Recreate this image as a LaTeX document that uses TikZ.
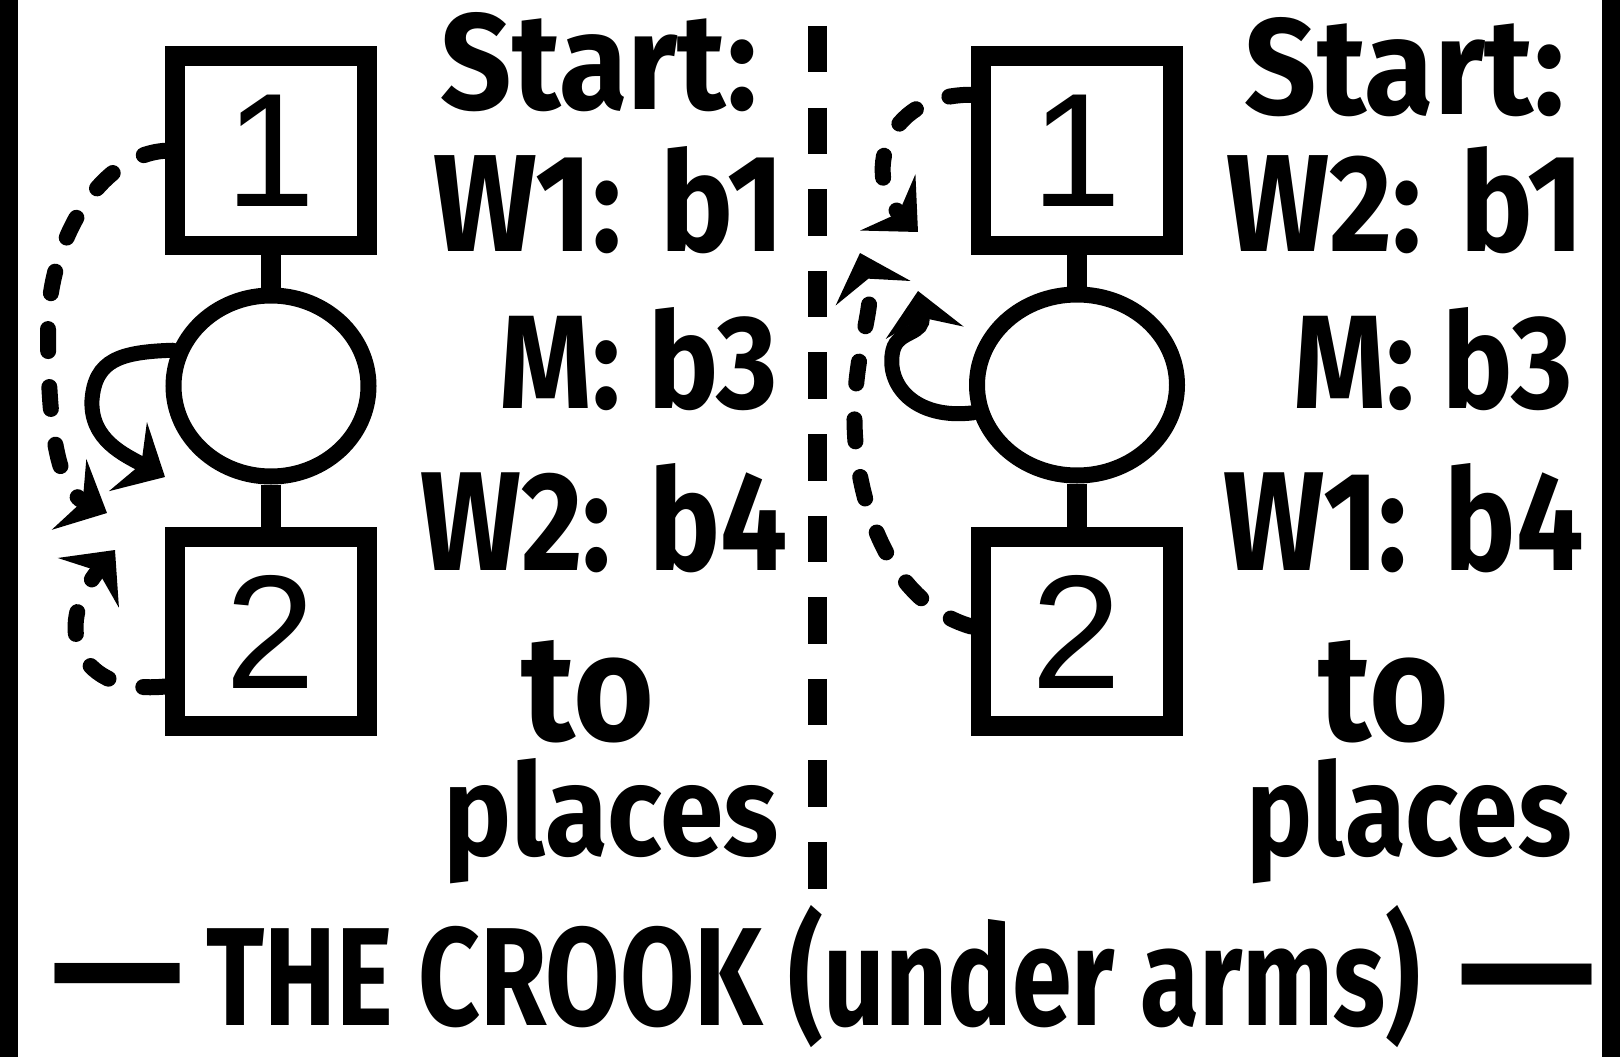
\documentclass[tikz,border=0pt]{standalone}
\usepackage{fontspec}
\setmainfont{Fira Sans}
\newfontfamily\digitfont{Liberation Sans}
\usepackage{graphicx}
\usetikzlibrary{arrows.meta,shapes.geometric}
\tikzset{
  box/.style={draw, line width=19.5pt, minimum width=192pt, minimum height=189pt, inner sep=0pt, font=\digitfont\fontsize{162}{162}\selectfont},
  man/.style={draw, ellipse, line width=16pt, minimum height=181pt, inner sep=0pt},
  stem/.style={line width=20pt},
  lbl/.style={anchor=base, inner sep=0pt, font=\bfseries},
  head/.style={-{Stealth[length=42pt,width=78pt,inset=15pt]}},
  trail/.style={head, line width=16pt, line cap=round, dash pattern=on 22pt off 36pt},
  curl/.style={head, line width=15pt, line cap=round},
  divider/.style={line width=19pt, dash pattern=on 46.5pt off 35.1pt},
  rule/.style={anchor=north, inner sep=0pt, font=\bfseries},
}
\begin{document}
\begin{tikzpicture}[x=1pt,y=-1pt]
\useasboundingbox (0,0) rectangle (1620,1057);
\fill[white] (0,0) rectangle (1620,1057);
\fill (0,0) rectangle (17.6,1057);
\fill (1601.5,0) rectangle (1620,1057);
\coordinate (dtop) at (817.5,26);
\coordinate (dbot) at (817.5,888.6);
\draw[divider] (dtop) -- (dbot);

% left figure
\node[box] (L1) at (271,150.75) {1};
\node[man, minimum width=195pt] (LM) at (271,386) {};
\node[box] (L2) at (271,631.5) {2};
\draw[stem] (L1.south) -- (LM.north);
\draw[stem] (LM.south) -- (L2.north);
\coordinate (LtipA) at (107,513);
\coordinate (LtipB) at (115,550);
\coordinate (LtipC) at (165,477);
\draw[trail] (L1.west) .. controls (100,155) and (48,240) .. (48,330) .. controls (48,440) and (60,490) .. (LtipA);
\draw[trail] ([yshift=-55pt]L2.west) .. controls (80,695) and (50,630) .. (LtipB);
\draw[curl] (LM.160) .. controls (120,352) and (95,360) .. (92,400) .. controls (90,440) and (125,455) .. (LtipC);

% right figure
\node[box] (R1) at (1077,150.75) {1};
\node[man, minimum width=200pt] (RM) at (1077,385) {};
\node[box] (R2) at (1077,631.5) {2};
\draw[stem] (R1.south) -- (RM.north);
\draw[stem] (RM.south) -- (R2.north);
\coordinate (RtipA) at (918,232);
\coordinate (RtipB) at (860,253);
\coordinate (RtipC) at (918,291);
\draw[trail] ([yshift=56pt]R1.west) .. controls (880,95) and (865,180) .. (RtipA);
\draw[trail] ([yshift=5pt]R2.west) .. controls (880,600) and (850,480) .. (855,400) .. controls (858,340) and (876,302) .. (RtipB);
\draw[curl] (RM.195) .. controls (915,420) and (885,385) .. (893,350) .. controls (898,330) and (925,335) .. (RtipC);

% left text
\node[lbl] (Lstart) at (599,110) {\resizebox{316pt}{97pt}{Start:}};
\node[lbl] (Lw) at (609,251.5) {\resizebox{350pt}{105pt}{W1: b1}};
\node[lbl] (Lm) at (639,408) {\resizebox{278pt}{101pt}{M: b3}};
\node[lbl] (Lw2) at (604,570) {\resizebox{367pt}{107pt}{W2: b4}};
\node[lbl] (Lto) at (588,740) {\resizebox{132pt}{100pt}{to}};
\node[lbl] (Lpl) at (611,855.5) {\resizebox{335pt}{97pt}{places}};

% right text
\node[lbl] (Rstart) at (1405,114) {\resizebox{320pt}{97pt}{Start:}};
\node[lbl] (Rw) at (1405,251.5) {\resizebox{357pt}{105pt}{W2: b1}};
\node[lbl] (Rm) at (1433,408) {\resizebox{279pt}{101pt}{M: b3}};
\node[lbl] (Rw2) at (1404,570) {\resizebox{360pt}{107pt}{W1: b4}};
\node[lbl] (Rto) at (1384,740) {\resizebox{130pt}{100pt}{to}};
\node[lbl] (Rpl) at (1409,855.5) {\resizebox{325pt}{97pt}{places}};

% title
\node[lbl] (title) at (813.6,1025) {\resizebox{1214pt}{120pt}{THE CROOK (under arms)}};
\node[rule] (dashL) at (118,963.5) {\resizebox{132pt}{!}{—}};
\node[rule] (dashR) at (1527.5,963.5) {\resizebox{137pt}{!}{—}};
\end{tikzpicture}
\end{document}
